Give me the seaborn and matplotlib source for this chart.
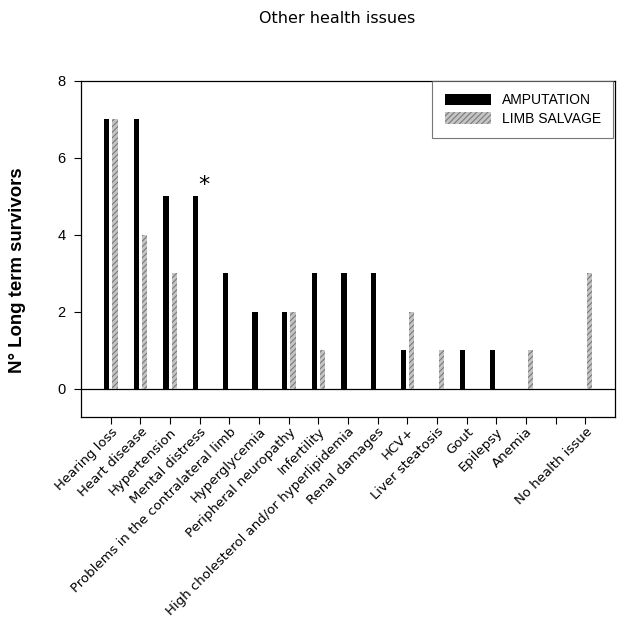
import matplotlib
matplotlib.use("Agg")
import matplotlib.pyplot as plt
import seaborn as sns
import pandas as pd
from matplotlib.patches import Patch

categories = ["Hearing loss", "Heart disease", "Hypertension", "Mental distress",
              "Problems in the contralateral limb", "Hyperglycemia",
              "Peripheral neuropathy", "Infertility",
              "High cholesterol and/or hyperlipidemia", "Renal damages", "HCV+",
              "Liver steatosis", "Gout", "Epilepsy", "Anemia", "", "No health issue"]
amputation = [7, 7, 5, 5, 3, 2, 2, 3, 3, 3, 1, 0, 1, 1, 0, 0, 0]
limb_salvage = [7, 4, 3, 0, 0, 0, 2, 1, 0, 0, 2, 1, 0, 0, 1, 0, 3]
groups = ["AMPUTATION", "LIMB SALVAGE"]

df = pd.DataFrame({
    "cat": categories * 2,
    "val": amputation + limb_salvage,
    "grp": [groups[0]] * len(categories) + [groups[1]] * len(categories),
})

sns.set_style("ticks")
plt.rcParams["font.family"] = ["DejaVu Sans"]
plt.rcParams["hatch.linewidth"] = 0.8
for k in ["text.color", "axes.labelcolor", "xtick.color", "ytick.color", "axes.edgecolor"]:
    plt.rcParams[k] = "black"

fig = plt.figure(figsize=(6.24, 6.22), dpi=100)
ax = fig.add_axes([0.13, 0.3296, 0.8556, 0.5402])

sns.barplot(data=df, x="cat", y="val", hue="grp", order=categories,
            hue_order=groups, palette=["black", "#c4c4c4"], width=0.56, gap=0.36,
            linewidth=0, ax=ax, legend=False, errorbar=None)

gray_bars = ax.containers[1]
for b in gray_bars:
    b.set_hatch("//////")
    b.set_edgecolor("#7a7a7a")
    b.set_linewidth(0)

ax.set_xlim(-1, 17)
ax.set_ylim(-0.73, 8)
ax.set_yticks([0, 2, 4, 6, 8])
ax.axhline(0, color="black", lw=0.9, zorder=0)
for s in ax.spines.values():
    s.set_visible(True)
    s.set_linewidth(0.9)
ax.tick_params(axis="y", labelsize=10.5, length=5, width=0.8, pad=6)
ax.tick_params(axis="x", labelsize=9.5, length=5, width=0.8, pad=1)
for lab in ax.get_yticklabels():
    lab.set_fontfamily("Liberation Sans")
plt.setp(ax.get_xticklabels(), rotation=45, ha="right", rotation_mode="anchor")

ax.set_xlabel("")
ax.set_ylabel("N° Long term survivors", fontsize=13.4, fontweight="bold",
              fontfamily="Liberation Sans")
ax.yaxis.set_label_coords(-0.103, 0.4375)

ax.text(3.14, 5.3, "*", ha="center", va="center", fontsize=16)

handles = [Patch(facecolor="black", edgecolor="black", linewidth=0),
           Patch(facecolor="#c4c4c4", edgecolor="#7a7a7a", hatch="//////", linewidth=0)]
leg = ax.legend(handles, groups, loc="upper right", bbox_to_anchor=(0.997, 1.0),
                frameon=True, fancybox=False, edgecolor="#555555",
                prop={"family": "Liberation Sans", "size": 10},
                handlelength=3.3, handleheight=0.9, borderpad=0.9,
                labelspacing=0.3, handletextpad=0.8, borderaxespad=0.0)
leg.get_frame().set_linewidth(0.8)

fig.text(0.54, 0.97, "Other health issues", ha="center", va="center", fontsize=11.5)

fig.savefig("out.png", dpi=100)
